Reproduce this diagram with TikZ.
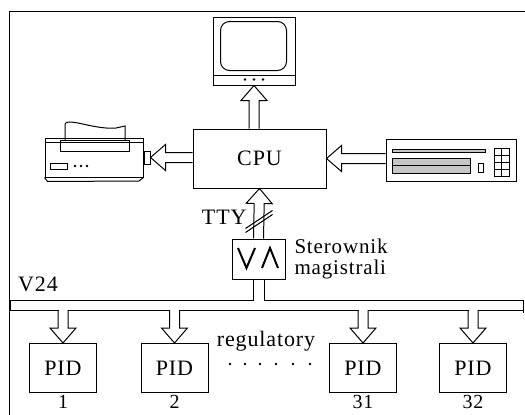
\documentclass[tikz,border=0pt]{standalone}
\usepackage{fontspec}
\setmainfont[LetterSpace=4]{Liberation Serif}
\usetikzlibrary{calc,positioning}

\tikzset{
  blok/.style={draw, rectangle, inner sep=0pt, font=\fontsize{22}{24}\selectfont},
  opis/.style={inner sep=0pt, font=\fontsize{22}{19}\selectfont},
  numer/.style={inner sep=0pt, font=\fontsize{20}{20}\selectfont},
}

% strzalka konturowa: trzon od #1, grot w #2
\newcommand{\grubastrz}[2]{%
  \coordinate (gs-b) at ($(#2)!15pt!(#1)$);
  \draw ($(#1)!5pt!90:(#2)$) -- ($(gs-b)!5pt!90:(#2)$) -- ($(gs-b)!13pt!90:(#2)$) -- (#2)
    -- ($(gs-b)!13pt!-90:(#2)$) -- ($(gs-b)!5pt!-90:(#2)$) -- ($(#1)!5pt!-90:(#2)$);
}

\begin{document}
\begin{tikzpicture}[x=1pt, y=-1pt, line width=1pt]
  \useasboundingbox (0,0) rectangle (525,415);

  % ramka
  \draw (9,415) -- (9,11) -- (525,11);

  % monitor
  \node[blok, minimum width=82pt, minimum height=68pt] (mon) at (254,51) {};
  \draw (mon.south west) ++(0,-10) -- ++(82,0);
  \draw[rounded corners=9pt] ($(mon.north west)+(8,5)$) rectangle ($(mon.north west)+(74,54)$);
  \foreach \dx in {-9,0,9}
    \fill ($(mon.south)+(\dx,-6)$) circle (1.4);

  % CPU
  \node[blok, minimum width=133pt, minimum height=59pt] (cpu) at (259.5,158.5) {CPU};
  \coordinate (cpu-g) at (mon.south |- cpu.north);
  \grubastrz{cpu-g}{mon.south}

  % drukarka
  \node[blok, minimum width=98pt, minimum height=39pt] (druk) at (94,157.5) {};
  \draw ($(druk.north west)+(0,5)$) -- ++(98,0);
  \draw (60,140) rectangle (129,151);
  \draw (65,140) -- (65,124) .. controls (66,121) and (72,122) .. (78,123)
    .. controls (92,126) and (104,129) .. (116,128) -- (125,126) -- (125,140);
  \draw (50,163) rectangle (67,169);
  \foreach \x in {75,81,87}
    \fill (\x,166) circle (1.3);
  \draw (druk.south west) -- ++(3,4) -- (139,181) -- (druk.south east);
  \node[draw, inner sep=0pt, minimum width=6pt, minimum height=13pt, anchor=west] (zlacze) at (druk.east) {};
  \coordinate (cpu-w) at (cpu.west |- zlacze.east);
  \grubastrz{cpu-w}{zlacze.east}

  % naped / klawiatura
  \node[blok, minimum width=130pt, minimum height=42pt] (naped) at (451,160) {};
  \draw[fill=gray!45] (392,149) rectangle (485,152);
  \draw[fill=gray!45] (392,158) rectangle (470,173);
  \draw (392,165.5) -- (470,165.5);
  \draw (478,163) rectangle (483,172);
  \draw (494,148) rectangle (509,176);
  \draw (501.5,148) -- (501.5,176);
  \foreach \y in {155,162,169}
    \draw (494,\y) -- (509,\y);
  \coordinate (naped-w) at (naped.west |- cpu.east);
  \grubastrz{naped-w}{cpu.east}

  % sterownik magistrali
  \node[blok, minimum width=53pt, minimum height=40pt] (ster) at (258.5,259) {};
  \draw[line width=2pt] ($(ster)+(-20.5,-11)$) -- ($(ster)+(-12,9)$) -- ($(ster)+(-3.5,-11)$);
  \draw[line width=2pt] ($(ster)+(3.5,9)$) -- ($(ster)+(11.5,-11)$) -- ($(ster)+(19.5,9)$);
  \node[inner sep=0pt, font=\fontsize{21}{21}\selectfont, align=left, anchor=west] (ster-opis) at (294,259) {Sterownik\\magistrali};
  \grubastrz{ster.north}{cpu.south}
  \draw ($(ster.north)+(-13,-6)$) -- ++(27,-18);
  \draw ($(ster.north)+(-13,-10)$) -- ++(27,-18);
  \node[opis, anchor=east] (tty) at (247,217) {TTY};

  % magistrala V24
  \coordinate (busb) at (0,310);
  \draw (10,300) -| ($(ster.south)+(-5.5,0)$);
  \draw ($(ster.south)+(5.5,0)$) |- (523,300) -- (523,313);
  \draw (10,310) -- (523,310);
  \draw[line width=2.5pt] (10,299.5) -- (10,310.5);
  \node[opis] (v24) at (38,284) {V24};

  % regulatory PID
  \foreach \n/\x in {1/63, 2/174.5, 31/363, 32/473} {
    \node[blok, minimum width=67pt, minimum height=49pt] (pid\n) at (\x,368) {PID};
    \node[numer, below=2pt of pid\n] (nr\n) {\n};
    \coordinate (odg) at (pid\n.north |- busb);
    \fill[white] ($(odg)+(-4.5,-1.5)$) rectangle ($(odg)+(4.5,1.5)$);
    \grubastrz{odg}{pid\n.north}
  }
  \node[opis] (reg) at (266,341) {regulatory};
  \foreach \x in {230,245,260,276,293,310}
    \fill (\x,364) circle (1.3);
\end{tikzpicture}
\end{document}
